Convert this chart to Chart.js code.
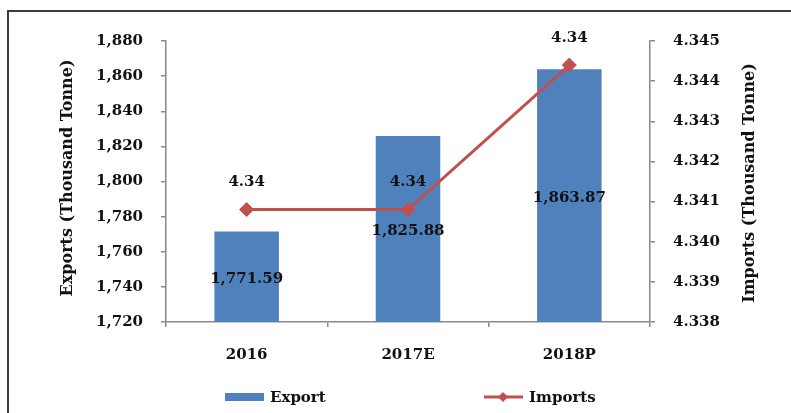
<!DOCTYPE html>
<html>
<head>
<meta charset="utf-8">
<script src="https://cdn.jsdelivr.net/npm/chart.js@4.4.1/dist/chart.umd.min.js"></script>
<style>
  html, body { margin: 0; padding: 0; background: #fff; overflow: hidden; }
  #wrap { position: relative; width: 791px; height: 413px; overflow: hidden; }
  #frame { position: absolute; left: 7px; top: 10px; width: 800px; height: 420px;
           border-top: 2px solid #3c3c3c; border-left: 2px solid #3c3c3c; pointer-events: none; }
  canvas { position: absolute; left: 0; top: 0; }
</style>
</head>
<body>
<div id="wrap">
  <canvas id="chart" width="791" height="413"></canvas>
  <div id="frame"></div>
</div>
<script>
/* ---------- data ---------- */
const categories = ["2016", "2017E", "2018P"];
const exportValues = [1771.59, 1825.88, 1863.87];
const importValues = [4.3408, 4.3408, 4.3444];
const leftTicks = { min: 1720, max: 1880, step: 20 };
const rightTicks = { min: 4.338, max: 4.345, step: 0.001 };

const BLUE = "#4F81BD";
const RED = "#C0504D";
const AXIS = "#8a8a8a";
const FONT = "'DejaVu Serif', 'Liberation Serif', serif";

const fmtComma = (v, d = 0) => {
  const parts = Number(v).toFixed(d).split(".");
  parts[0] = parts[0].replace(/\B(?=(\d{3})+(?!\d))/g, ",");
  return parts.join(".");
};

/* ---------- plugins ---------- */
const valueLabels = {
  id: "valueLabels",
  afterDatasetsDraw(chart) {
    const ctx = chart.ctx;
    const bottom = chart.scales.y.bottom;
    ctx.save();
    ctx.font = `bold 15px ${FONT}`;
    ctx.fillStyle = "#111";
    ctx.textAlign = "center";
    ctx.textBaseline = "middle";
    chart.data.datasets.forEach((ds, i) => {
      const meta = chart.getDatasetMeta(i);
      meta.data.forEach((el, j) => {
        if (ds.type === "line") {
          ctx.fillText(ds.data[j].toFixed(2), el.x, el.y - 27);
        } else {
          ctx.fillText(fmtComma(ds.data[j], 2), el.x, (el.y + bottom) / 2 + 2);
        }
      });
    });
    ctx.restore();
  },
};

const titlesAndLegend = {
  id: "titlesAndLegend",
  afterDraw(chart) {
    const ctx = chart.ctx;
    ctx.save();
    ctx.fillStyle = "#111";
    ctx.font = `bold 16px ${FONT}`;
    ctx.textAlign = "center";
    ctx.textBaseline = "middle";
    // axis titles, both reading bottom-to-top
    [[68, 178, "Exports (Thousand Tonne)"], [750, 183, "Imports (Thousand Tonne)"]].forEach(([x, y, t]) => {
      ctx.save();
      ctx.translate(x, y);
      ctx.rotate(-Math.PI / 2);
      ctx.fillText(t, 0, 0);
      ctx.restore();
    });
    // legend
    const ly = 397;
    ctx.font = `bold 15px ${FONT}`;
    ctx.textAlign = "left";
    ctx.fillStyle = BLUE;
    ctx.fillRect(225, ly - 4, 39, 8);
    ctx.fillStyle = "#111";
    ctx.fillText(chart.data.datasets[0].label, 270, ly + 1);
    ctx.strokeStyle = RED;
    ctx.lineWidth = 3;
    ctx.beginPath();
    ctx.moveTo(484, ly);
    ctx.lineTo(523, ly);
    ctx.stroke();
    ctx.fillStyle = RED;
    ctx.beginPath();
    ctx.moveTo(503, ly - 5); ctx.lineTo(508, ly); ctx.lineTo(503, ly + 5); ctx.lineTo(498, ly);
    ctx.closePath();
    ctx.fill();
    ctx.fillStyle = "#111";
    ctx.fillText(chart.data.datasets[1].label, 529, ly + 1);
    ctx.restore();
  },
};

/* ---------- chart ---------- */
const axisGrid = { drawOnChartArea: false, drawTicks: true, tickLength: 5, color: AXIS, lineWidth: 1.5 };
const tickFont = { family: FONT, size: 15, weight: "bold" };

new Chart(document.getElementById("chart"), {
  data: {
    labels: categories,
    datasets: [
      {
        type: "bar", label: "Export", data: exportValues, yAxisID: "y",
        backgroundColor: BLUE, barPercentage: 0.4, categoryPercentage: 1, order: 2,
      },
      {
        type: "line", label: "Imports", data: importValues, yAxisID: "y1",
        borderColor: RED, borderWidth: 3, backgroundColor: RED,
        pointStyle: "rectRot", pointRadius: 7, pointBorderWidth: 1, pointBackgroundColor: RED,
        tension: 0, order: 1,
      },
    ],
  },
  options: {
    responsive: false, animation: false,
    layout: { padding: { top: 41, left: 0, right: 0, bottom: 0 } },
    plugins: { legend: { display: false }, tooltip: { enabled: false } },
    scales: {
      x: {
        offset: true,
        grid: { ...axisGrid, offset: true },
        border: { color: AXIS, width: 1.5 },
        ticks: { color: "#111", font: tickFont, padding: 19 },
        afterFit: (s) => { s.height = 91; },
      },
      y: {
        position: "left",
        min: leftTicks.min, max: leftTicks.max,
        grid: axisGrid,
        border: { color: AXIS, width: 1.5 },
        ticks: { stepSize: leftTicks.step, color: "#111", font: tickFont, padding: 18,
                 callback: (v) => fmtComma(v) },
        afterFit: (s) => { s.width = 166; },
      },
      y1: {
        position: "right",
        min: rightTicks.min, max: rightTicks.max,
        grid: axisGrid,
        border: { color: AXIS, width: 1.5 },
        ticks: { stepSize: rightTicks.step, color: "#111", font: tickFont, padding: 18,
                 callback: (v) => Number(v).toFixed(3) },
        afterFit: (s) => { s.width = 141; },
      },
    },
  },
  plugins: [valueLabels, titlesAndLegend],
});
</script>
</body>
</html>
